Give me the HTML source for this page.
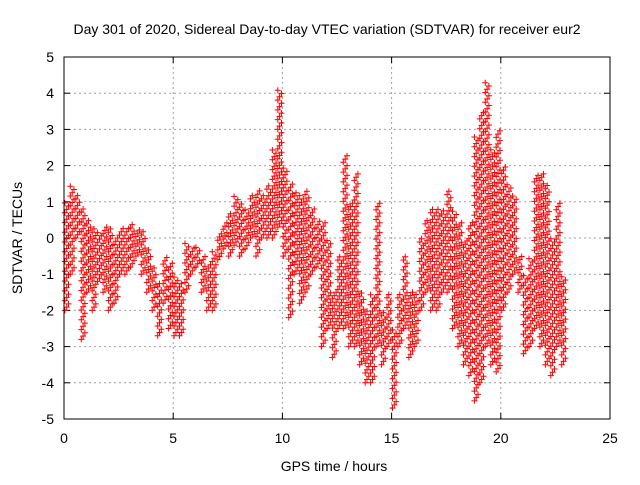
<!DOCTYPE html>
<html><head><meta charset="utf-8"><style>
body{margin:0;background:#fff}
svg text{font-family:"Liberation Sans",sans-serif;font-size:14px;fill:#000}
</style></head><body>
<svg id="chart" width="640" height="480">
<text x="327" y="34" text-anchor="middle">Day 301 of 2020, Sidereal Day-to-day VTEC variation (SDTVAR) for receiver eur2</text>
<text x="334" y="471" text-anchor="middle">GPS time / hours</text>
<text transform="translate(22,238) rotate(-90)" text-anchor="middle">SDTVAR / TECUs</text>
<g id="grid"></g><g id="ticks"></g><g id="marks"></g>
<rect x="64" y="57" width="546" height="362" fill="none" stroke="#000" stroke-width="1"/>
</svg>
<script>
const xTicks=[0,5,10,15,20,25];
const yTicks=[-5,-4,-3,-2,-1,0,1,2,3,4,5];
const binStart=0, binWidth=0.25;
const lo=[-2,-1,0,-2.8,-1.5,-2,-1.2,-1.5,-2,-1.8,-1,-1,-0.8,-0.5,-1,-1.5,-2,-2.7,-1.8,-2.5,-2.7,-2.7,-1.5,-1,-0.8,-1.5,-2,-2,-0.6,-0.3,-0.5,-0.2,-0.5,-0.3,0,-0.5,0,0,0,0.3,-0.5,-2.2,-1,-1.8,-1.5,-1,-0.8,-3,-2.5,-3.3,-2.5,-2.5,-3,-3,-3.5,-4,-4,-3,-3.5,-3,-4.7,-3,-2.5,-3.3,-3,-2,-1.5,-2,-2,-1.5,-1.5,-2.5,-3,-3.5,-3.8,-4.5,-4,-3,-3.5,-3.7,-2,-1.5,-1,-1.5,-3.2,-3,-2.5,-3,-3.5,-3.8,-3,-3.5];
const hi=[1,1.5,1.2,0.8,0.5,0.3,0.2,0.3,0.3,0,0.3,0.3,0.4,0.3,0.2,-0.3,-0.8,-1.2,-0.5,-0.7,-1,-1.2,-0.1,-0.2,-0.2,-0.5,-0.7,-0.3,0.2,0.5,0.7,1.2,1,0.8,1.2,1.3,1.2,1.5,2.5,4.1,2,1.5,1.3,1.2,1.3,0.8,0.5,0.5,0,-1.5,-0.5,2.3,1,1.8,-1.5,-2,-1.5,1,-2,-1.5,-2.5,-1.5,-0.5,-1.5,-1.5,0,0.5,0.8,0.8,0.8,1.3,0.8,0.5,0,0.5,2.8,3.5,4.3,2.5,3,2,1.5,1.2,-0.5,-1,-0.5,1.8,1.8,1.5,0,1,-1];
const X=h=>64+h*(546/25), Y=v=>238-v*36.2;
const ns="http://www.w3.org/2000/svg";
const grid=document.getElementById('grid'), ticks=document.getElementById('ticks'), marks=document.getElementById('marks');
function mk(tag,attrs,parent){const e=document.createElementNS(ns,tag);for(const k in attrs)e.setAttribute(k,attrs[k]);parent.appendChild(e);return e;}
xTicks.forEach(t=>{
 if(t>0&&t<25){const g=mk('line',{x1:X(t),x2:X(t),y1:57,y2:419,stroke:'#a0a0a0','stroke-dasharray':'2,3'},grid);
 
 }
 mk('line',{x1:X(t),x2:X(t),y1:419,y2:413,stroke:'#000'},ticks);
 mk('line',{x1:X(t),x2:X(t),y1:57,y2:63,stroke:'#000'},ticks);
 const l=mk('text',{x:X(t),y:443,'text-anchor':'middle'},ticks);l.textContent=t;
 
 
});
yTicks.forEach(t=>{
 if(t>-5&&t<5){const g=mk('line',{x1:64,x2:610,y1:Y(t),y2:Y(t),stroke:'#a0a0a0','stroke-dasharray':'2,3'},grid);
 
 }
 mk('line',{x1:64,x2:70,y1:Y(t),y2:Y(t),stroke:'#000'},ticks);
 mk('line',{x1:604,x2:610,y1:Y(t),y2:Y(t),stroke:'#000'},ticks);
 const l=mk('text',{x:54,y:Y(t)+5,'text-anchor':'end'},ticks);l.textContent=t;
 
 
});
let d='';
for(let i=0;i<lo.length;i++){
 for(let c=0;c<3;c++){
  const h=binStart+i*binWidth+c*binWidth/3+0.04;
  const off=c*0.09;
  for(let v=lo[i]+off;v<=hi[i]+0.001;v+=0.27){
   const x=X(h),y=Y(v);
   d+=`M${(x-3).toFixed(1)} ${y.toFixed(1)}h6M${x.toFixed(1)} ${(y-3).toFixed(1)}v6`;
  }
 }
}
const p=mk('path',{d:d,stroke:'#ff0000','stroke-width':1,fill:'none'},marks);


</script>
</body></html>
